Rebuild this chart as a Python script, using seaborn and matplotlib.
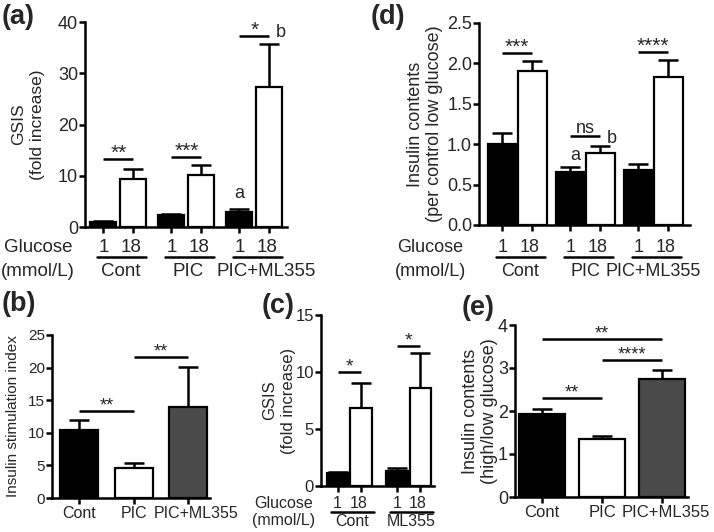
import numpy as np
import pandas as pd
import matplotlib
matplotlib.use('Agg')
import matplotlib.pyplot as plt
import matplotlib.transforms as mtransforms
import seaborn as sns

# ---- data ----
groups = ['Cont', 'PIC', 'PIC+ML355']
glucose_levels = ['1', '18']

# (a) GSIS, fold increase
gsis_low = [1.0, 2.3, 3.0]
gsis_low_sem = [0.2, 0.3, 0.6]
gsis_high = [9.3, 10.1, 27.3]
gsis_high_sem = [2.1, 2.0, 8.5]
gsis_sig = ['**', '***', '*']
gsis_sig_y = [13.2, 13.7, 37.3]

# (b) insulin stimulation index
stim_index = [10.5, 4.6, 14.0]
stim_index_sem = [1.5, 0.7, 6.1]
stim_sig = [(0, 1, 13.3, '**'), (1, 2, 21.6, '**')]

# (c) GSIS with ML355 alone
groups_c = ['Cont', 'ML355']
gsis_c_low = [1.1, 1.35]
gsis_c_low_sem = [0.1, 0.25]
gsis_c_high = [6.85, 8.6]
gsis_c_high_sem = [2.2, 3.1]
gsis_c_sig = ['*', '*']
gsis_c_sig_y = [10.0, 12.3]

# (d) insulin contents, per control low glucose
content_low = [1.0, 0.65, 0.68]
content_low_sem = [0.14, 0.07, 0.08]
content_high = [1.91, 0.89, 1.83]
content_high_sem = [0.12, 0.09, 0.21]
content_sig = ['***', 'ns', '****']
content_sig_y = [2.13, 1.10, 2.14]

# (e) insulin contents, high/low glucose
content_ratio = [1.92, 1.34, 2.74]
content_ratio_sem = [0.12, 0.08, 0.21]
ratio_sig = [(0, 1, 2.3, '**'), (1, 2, 3.18, '****'), (0, 2, 3.67, '**')]

W, H = 714, 532
sns.set_style('ticks')
plt.rcParams['font.family'] = ['Liberation Sans', 'DejaVu Sans']
plt.rcParams['axes.linewidth'] = 1.8

fig = plt.figure(figsize=(W / 100, H / 100), dpi=100)


def add_axes_px(left, top, right, bottom):
    return fig.add_axes([left / W, 1 - bottom / H, (right - left) / W, (bottom - top) / H])


def style_axis(ax, fs):
    sns.despine(ax=ax)
    ax.tick_params(axis='both', length=4, width=1.8, labelsize=fs, pad=1, color='k')
    for s in ['left', 'bottom']:
        ax.spines[s].set_linewidth(1.8)
        ax.spines[s].set_color('k')
    ax.set_xlabel('')


def shift_label(lab, dx_px):
    lab.set_transform(lab.get_transform() + mtransforms.ScaledTranslation(dx_px / 100, 0, fig.dpi_scale_trans))


def add_errors(ax, sems):
    # upper-only SEM bars on top of each drawn bar, left to right
    patches = sorted(ax.patches, key=lambda p: p.get_x())
    centers = []
    for p, e in zip(patches, sems):
        x = p.get_x() + p.get_width() / 2
        ax.errorbar(x, p.get_height(), yerr=[[0], [e]], fmt='none', ecolor='k',
                    elinewidth=1.8, capsize=7, capthick=1.8, zorder=1)
        centers.append(x)
    return centers


def grouped(ax, names, low, low_sem, high, high_sem, width, gap):
    df = pd.DataFrame({
        'group': np.repeat(names, 2),
        'glucose': glucose_levels * len(names),
        'value': np.ravel(np.column_stack([low, high])),
        'sem': np.ravel(np.column_stack([low_sem, high_sem])),
    })
    sns.barplot(data=df, x='group', y='value', hue='glucose', order=names,
                hue_order=glucose_levels, palette={'1': 'black', '18': 'white'},
                edgecolor='black', linewidth=1.6, width=width, gap=gap,
                errorbar=None, legend=False, ax=ax, zorder=2)
    centers = add_errors(ax, df['sem'].values)
    ax.set_xticks(centers)
    ax.set_xticklabels([])
    return centers


def sig(ax, x1, x2, y, text, fs):
    ax.plot([x1, x2], [y, y], color='k', lw=1.8, clip_on=False, solid_capstyle='butt')
    dy = 3.5 - 0.22 * fs if '*' in text else 2.5
    ax.annotate(text, xy=((x1 + x2) / 2, y), xytext=(0, dy), textcoords='offset points',
                ha='center', va='baseline', fontsize=fs, annotation_clip=False)


def glucose_rows(ax, names, centers, y1, yline, y2, fs, label_x, name_dx):
    trans = mtransforms.blended_transform_factory(ax.transData, fig.transFigure)
    for i, name in enumerate(names):
        ax.text(centers[2 * i], 1 - y1 / H, '1', transform=trans, ha='center', va='center', fontsize=fs)
        ax.text(centers[2 * i + 1] - 0.04, 1 - y1 / H, '18', transform=trans, ha='center', va='center', fontsize=fs)
        ax.plot([i - 0.31, i + 0.41], [1 - yline / H] * 2, transform=trans, color='k', lw=1.8, clip_on=False)
        ax.text(i + name_dx[i], 1 - y2 / H, name, transform=trans, ha='center', va='center', fontsize=fs)
    fig.text(label_x / W, 1 - y1 / H, 'Glucose', ha='center', va='center', fontsize=fs)
    fig.text(label_x / W, 1 - y2 / H, '(mmol/L)', ha='center', va='center', fontsize=fs)


# ---- (a) ----
ax = add_axes_px(85, 22, 287, 227)
c = grouped(ax, groups, gsis_low, gsis_low_sem, gsis_high, gsis_high_sem, 0.88, 0.13)
ax.set_xlim(-0.49, 2.48)
ax.set_ylim(0, 40)
ax.set_yticks(range(0, 41, 10))
style_axis(ax, 13)
ax.set_ylabel('GSIS\n(fold increase)', fontsize=12.5, linespacing=1.25)
ax.yaxis.set_label_coords(-0.2, 0.5)
for i, (t, y) in enumerate(zip(gsis_sig, gsis_sig_y)):
    sig(ax, c[2 * i], c[2 * i + 1], y, t, 15)
ax.text(c[4], gsis_low[2] + gsis_low_sem[2] + 1.2, 'a', ha='center', va='bottom', fontsize=13)
ax.text(c[5] + 0.17, gsis_sig_y[2] + 0.6, 'b', ha='center', va='center', fontsize=13)
glucose_rows(ax, groups, c, 247, 257, 271, 13.5, 38, [0.03, 0.02, 0.17])

# ---- (d) ----
ax = add_axes_px(479, 23, 690, 225)
c = grouped(ax, groups, content_low, content_low_sem, content_high, content_high_sem, 0.88, 0.03)
ax.set_xlim(-0.56, 2.54)
ax.set_ylim(0, 2.5)
ax.set_yticks(np.arange(0, 2.51, 0.5))
ax.set_yticklabels([f'{v:.1f}' for v in np.arange(0, 2.51, 0.5)])
style_axis(ax, 13)
ax.set_ylabel('Insulin contents\n(per control low glucose)', fontsize=13, linespacing=1.15)
ax.yaxis.set_label_coords(-0.17, 0.5)
for i, (t, y) in enumerate(zip(content_sig, content_sig_y)):
    sig(ax, c[2 * i], c[2 * i + 1], y, t, 15 if '*' in t else 13)
ax.text(c[2] + 0.07, content_low[1] + content_low_sem[1] + 0.04, 'a', ha='center', va='bottom', fontsize=13)
ax.text(c[3] + 0.17, content_sig_y[1] - 0.03, 'b', ha='center', va='center', fontsize=13)
glucose_rows(ax, groups, c, 247, 257, 271, 13, 430, [0.04, 0.0, 0.0])

# ---- (b) ----
ax = add_axes_px(52, 335, 210, 498)
sns.barplot(x=groups, y=stim_index, hue=groups, palette=['black', 'white', '#4a4a4a'],
            edgecolor='black', linewidth=1.6, width=0.7, legend=False, ax=ax, zorder=2)
add_errors(ax, stim_index_sem)
ax.set_xlim(-0.5, 2.4)
ax.set_ylim(0, 25)
ax.set_yticks(range(0, 26, 5))
style_axis(ax, 11)
ax.tick_params(axis='x', labelsize=11.5, pad=2)
shift_label(ax.get_xticklabels()[-1], 8)
ax.set_ylabel('Insulin stimulation index', fontsize=11)
ax.yaxis.set_label_coords(-0.2, 0.5)
for i, j, y, t in stim_sig:
    sig(ax, i, j, y, t, 13)

# ---- (c) ----
ax = add_axes_px(321, 315, 434, 486)
c = grouped(ax, groups_c, gsis_c_low, gsis_c_low_sem, gsis_c_high, gsis_c_high_sem, 0.8, 0.08)
ax.set_xlim(-0.48, 1.43)
ax.set_ylim(0, 15)
ax.set_yticks(range(0, 16, 5))
style_axis(ax, 12)
ax.set_ylabel('GSIS\n(fold increase)', fontsize=12, linespacing=1.25)
ax.yaxis.set_label_coords(-0.225, 0.5)
for i, (t, y) in enumerate(zip(gsis_c_sig, gsis_c_sig_y)):
    sig(ax, c[2 * i], c[2 * i + 1], y, t, 14)
glucose_rows(ax, groups_c, c, 503, 512, 521, 11.5, 284, [0.05, 0.05])

# ---- (e) ----
ax = add_axes_px(515, 325, 688, 497)
sns.barplot(x=groups, y=content_ratio, hue=groups, palette=['black', 'white', '#4a4a4a'],
            edgecolor='black', linewidth=1.6, width=0.76, legend=False, ax=ax, zorder=2)
add_errors(ax, content_ratio_sem)
ax.set_xlim(-0.45, 2.43)
ax.set_ylim(0, 4)
ax.set_yticks(range(0, 5))
style_axis(ax, 13)
ax.tick_params(axis='x', labelsize=12, pad=2)
shift_label(ax.get_xticklabels()[-1], 4)
ax.set_ylabel('Insulin contents\n(high/low glucose)', fontsize=13, linespacing=1.15)
ax.yaxis.set_label_coords(-0.1, 0.5)
for i, j, y, t in ratio_sig:
    sig(ax, i, j, y, t, 13)

# panel letters
for lbl, x, y in [('(a)', 2, 4), ('(d)', 371, 4), ('(b)', 2, 291), ('(c)', 262, 293), ('(e)', 462, 295)]:
    fig.text(x / W, 1 - y / H, lbl, ha='left', va='top', fontsize=19.5, fontweight='bold')

fig.savefig('out.png', dpi=100)
